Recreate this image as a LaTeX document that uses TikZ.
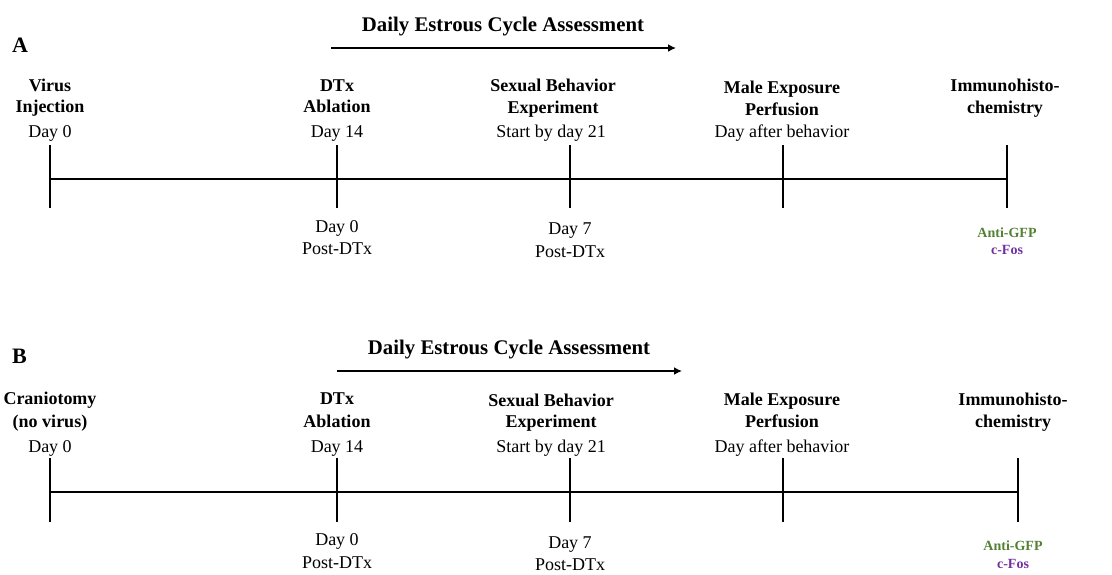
\documentclass[tikz,border=0pt]{standalone}
\usepackage{fontspec}
\setmainfont{Liberation Serif}
\usetikzlibrary{arrows.meta}
\definecolor{gfpgreen}{RGB}{84,130,53}
\definecolor{fospurple}{RGB}{112,48,160}
\tikzset{
  bl/.style={font=\fontsize{18}{18}\selectfont\bfseries, anchor=base, inner sep=0pt},
  rl/.style={font=\fontsize{18}{18}\selectfont, anchor=base, inner sep=0pt},
  hd/.style={font=\fontsize{20.8}{21}\selectfont\bfseries, anchor=base, inner sep=0pt},
  pl/.style={font=\fontsize{22}{22}\selectfont\bfseries, anchor=base west, inner sep=0pt},
  sm/.style={font=\fontsize{14}{14}\selectfont\bfseries, anchor=base, inner sep=0pt},
  tl/.style={line width=2.1pt},
  tk/.style={line width=2.1pt},
  ar/.style={line width=2.3pt, -{Latex[length=8pt,width=8pt]}}
}
\begin{document}
\begin{tikzpicture}[x=1pt,y=-1pt]
\useasboundingbox (0,0) rectangle (1112,574);

% ---------------- Panel A ----------------
\node[pl] (pA) at (12,52) {A};
\node[hd] (hA) at (503,31) {Daily Estrous Cycle Assessment};
\coordinate (arA0) at (331,48);
\coordinate (arA1) at (676,48);
\draw[ar] (arA0) -- (arA1);

% timeline points
\foreach \n/\x in {1/50,2/337,3/570,4/783,5/1007}{
  \coordinate (a\n) at (\x,179);
  \coordinate (a\n t) at (\x,145);
  \coordinate (a\n b) at (\x,208);
  \draw[tk] (a\n t) -- (a\n b);
}
\draw[tl] (a1) -- (a5);

\node[bl] (vA1) at (50,91) {Virus};
\node[bl] (vA2) at (50,112) {Injection};
\node[rl] (vA3) at (50,137) {Day 0};

\node[bl] (dA1) at (337,91) {DTx};
\node[bl] (dA2) at (337,112) {Ablation};
\node[rl] (dA3) at (337,137) {Day 14};

\node[bl] (sA1) at (553,91) {Sexual Behavior};
\node[bl] (sA2) at (553,113) {Experiment};
\node[rl] (sA3) at (551,137) {Start by day 21};

\node[bl] (mA1) at (782,93) {Male Exposure};
\node[bl] (mA2) at (782,115) {Perfusion};
\node[rl] (mA3) at (782,137) {Day after behavior};

\node[bl] (iA1) at (1005,91) {Immunohisto-};
\node[bl] (iA2) at (1005,113) {chemistry};

\node[rl] (pdA1) at (337,232) {Day 0};
\node[rl] (pdA2) at (337,254) {Post-DTx};
\node[rl] (p7A1) at (570,234) {Day 7};
\node[rl] (p7A2) at (570,257) {Post-DTx};

\node[sm, text=gfpgreen] (gA) at (1007,237) {Anti-GFP};
\node[sm, text=fospurple] (fA) at (1007,254) {c-Fos};

% ---------------- Panel B ----------------
\node[pl] (pB) at (12,363) {B};
\node[hd] (hB) at (509,354) {Daily Estrous Cycle Assessment};
\coordinate (arB0) at (337,371);
\coordinate (arB1) at (682,371);
\draw[ar] (arB0) -- (arB1);

\foreach \n/\x in {1/50,2/337,3/570,4/783,5/1018}{
  \coordinate (b\n) at (\x,492);
  \coordinate (b\n t) at (\x,458);
  \coordinate (b\n b) at (\x,522);
  \draw[tk] (b\n t) -- (b\n b);
}
\draw[tl] (b1) -- (b5);

\node[bl] (vB1) at (50,404) {Craniotomy};
\node[bl] (vB2) at (50,427) {(no virus)};
\node[rl] (vB3) at (50,452) {Day 0};

\node[bl] (dB1) at (337,404) {DTx};
\node[bl] (dB2) at (337,427) {Ablation};
\node[rl] (dB3) at (337,452) {Day 14};

\node[bl] (sB1) at (551,406) {Sexual Behavior};
\node[bl] (sB2) at (551,427) {Experiment};
\node[rl] (sB3) at (551,452) {Start by day 21};

\node[bl] (mB1) at (782,405) {Male Exposure};
\node[bl] (mB2) at (782,427) {Perfusion};
\node[rl] (mB3) at (782,452) {Day after behavior};

\node[bl] (iB1) at (1013,405) {Immunohisto-};
\node[bl] (iB2) at (1013,427) {chemistry};

\node[rl] (pdB1) at (337,545) {Day 0};
\node[rl] (pdB2) at (337,568) {Post-DTx};
\node[rl] (p7B1) at (570,548) {Day 7};
\node[rl] (p7B2) at (570,570) {Post-DTx};

\node[sm, text=gfpgreen] (gB) at (1013,550) {Anti-GFP};
\node[sm, text=fospurple] (fB) at (1013,568) {c-Fos};
\end{tikzpicture}
\end{document}
